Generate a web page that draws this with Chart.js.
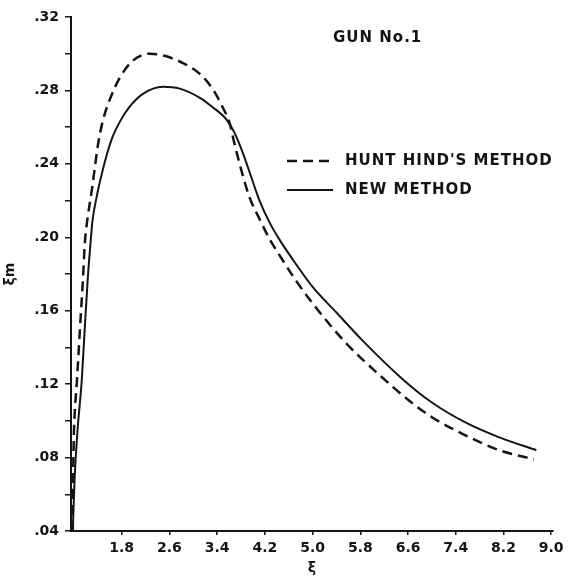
<!DOCTYPE html>
<html>
<head>
<meta charset="utf-8">
<script src="https://cdn.jsdelivr.net/npm/chart.js@4/dist/chart.umd.min.js"></script>
<style>
  body { margin: 0; background: #fff; }
  #wrap { width: 574px; height: 577px; position: relative; }
</style>
</head>
<body>
<div id="wrap"><canvas id="grafico"></canvas></div>
<script>
// --- dados ---
const xHunt = [0.98, 0.98, 1.00, 1.05, 1.10, 1.15, 1.18, 1.21, 1.30, 1.35, 1.40, 1.48, 1.60, 1.77, 1.98, 2.27, 2.50, 2.82, 3.11, 3.32, 3.49, 3.61, 3.69, 3.81, 3.94, 4.11, 4.28, 4.45, 4.73, 5.00, 5.57, 6.12, 6.62, 7.00, 7.57, 8.13, 8.71];
const yHunt = [0.040, 0.068, 0.095, 0.122, 0.150, 0.177, 0.196, 0.206, 0.226, 0.238, 0.250, 0.263, 0.275, 0.287, 0.296, 0.300, 0.299, 0.295, 0.289, 0.281, 0.271, 0.262, 0.251, 0.236, 0.222, 0.210, 0.199, 0.190, 0.176, 0.164, 0.142, 0.125, 0.111, 0.102, 0.092, 0.084, 0.079];

const xNovo = [0.98, 1.01, 1.06, 1.13, 1.18, 1.23, 1.28, 1.31, 1.38, 1.47, 1.55, 1.65, 1.77, 1.93, 2.15, 2.49, 2.77, 3.11, 3.32, 3.56, 3.69, 3.83, 3.98, 4.11, 4.28, 4.44, 4.73, 5.00, 5.40, 5.83, 6.50, 7.00, 7.57, 8.13, 8.75];
const yNovo = [0.040, 0.068, 0.095, 0.122, 0.150, 0.177, 0.198, 0.209, 0.222, 0.235, 0.245, 0.255, 0.263, 0.271, 0.278, 0.282, 0.281, 0.276, 0.271, 0.264, 0.257, 0.246, 0.232, 0.220, 0.208, 0.199, 0.185, 0.173, 0.159, 0.144, 0.123, 0.110, 0.099, 0.091, 0.084];

const xTicks = [1.8, 2.6, 3.4, 4.2, 5.0, 5.8, 6.6, 7.4, 8.2, 9.0];
const xTickLabels = ['1.8', '2.6', '3.4', '4.2', '5.0', '5.8', '6.6', '7.4', '8.2', '9.0'];
const yTicks = [0.04, 0.08, 0.12, 0.16, 0.20, 0.24, 0.28, 0.32];
const yTickLabels = ['.04', '.08', '.12', '.16', '.20', '.24', '.28', '.32'];

const titulo = 'GUN No.1';
const nomeHunt = "HUNT HIND'S METHOD";
const nomeNovo = 'NEW METHOD';

const tinta = '#141414';
const fonte = 'DejaVu Sans, Arial, sans-serif';

const pontos = (xs, ys) => xs.map((x, i) => ({ x: x, y: ys[i] }));

// titulo e legenda desenhados por cima
const legendaPlugin = {
    id: 'legendaPlugin',
    afterDraw(chart) {
        const ctx = chart.ctx;
        ctx.save();
        ctx.fillStyle = tinta;
        ctx.font = 'bold 15px ' + fonte;
        ctx.letterSpacing = '1px';
        ctx.textBaseline = 'middle';
        ctx.textAlign = 'left';
        ctx.fillText(titulo, 333, 38);

        const linhas = [
            { ds: chart.data.datasets[0], y: 161 },
            { ds: chart.data.datasets[1], y: 190 }
        ];
        linhas.forEach(l => {
            ctx.save();
            ctx.strokeStyle = tinta;
            ctx.lineWidth = l.ds.borderWidth;
            ctx.setLineDash(l.ds.borderDash || []);
            ctx.beginPath();
            ctx.moveTo(287, l.y);
            ctx.lineTo(333, l.y);
            ctx.stroke();
            ctx.restore();
            ctx.fillText(l.ds.label, 345, l.y);
        });
        ctx.restore();
    }
};

new Chart(document.getElementById('grafico').getContext('2d'), {
    type: 'line',
    data: {
        datasets: [
            {
                label: nomeHunt,
                data: pontos(xHunt, yHunt),
                borderColor: tinta,
                borderWidth: 2.5,
                borderDash: [10, 6],
                pointRadius: 0,
                cubicInterpolationMode: 'monotone',
                fill: false
            },
            {
                label: nomeNovo,
                data: pontos(xNovo, yNovo),
                borderColor: tinta,
                borderWidth: 2,
                pointRadius: 0,
                cubicInterpolationMode: 'monotone',
                fill: false
            }
        ]
    },
    options: {
        responsive: true,
        maintainAspectRatio: false,
        animation: false,
        layout: { padding: { left: 0, top: 17, right: 21, bottom: 0 } },
        plugins: {
            legend: { display: false },
            tooltip: { enabled: false }
        },
        scales: {
            x: {
                type: 'linear',
                min: 0.95,
                max: 9.03,
                afterBuildTicks: s => { s.ticks = xTicks.map(v => ({ value: v })); },
                afterFit: s => { s.height = 46; },
                border: { display: true, color: tinta, width: 2 },
                grid: { drawOnChartArea: false, drawTicks: true, tickLength: 4, color: tinta, lineWidth: 1.5 },
                ticks: {
                    color: tinta,
                    padding: 5,
                    maxRotation: 0,
                    font: { family: fonte, size: 14, weight: 'bold' },
                    callback: (v, i) => xTickLabels[i]
                },
                title: {
                    display: true,
                    text: 'ξ',
                    color: tinta,
                    padding: { top: 0, bottom: 0 },
                    font: { family: fonte, size: 14, weight: 'bold' }
                }
            },
            y: {
                min: 0.04,
                max: 0.32,
                afterBuildTicks: s => {
                    const t = [];
                    yTicks.forEach((v, i) => {
                        t.push({ value: v });
                        if (i < yTicks.length - 1) t.push({ value: (v + yTicks[i + 1]) / 2 });
                    });
                    s.ticks = t;
                },
                afterFit: s => { s.width = 71; },
                border: { display: true, color: tinta, width: 2 },
                grid: { drawOnChartArea: false, drawTicks: true, tickLength: 6, color: tinta, lineWidth: 1.5 },
                ticks: {
                    color: tinta,
                    padding: 6,
                    font: { family: fonte, size: 14, weight: 'bold' },
                    callback: v => {
                        const k = yTicks.findIndex(t => Math.abs(t - v) < 1e-6);
                        return k >= 0 ? yTickLabels[k] : '';
                    }
                },
                title: {
                    display: true,
                    text: 'ξm',
                    color: tinta,
                    padding: { top: 2, bottom: 0 },
                    font: { family: fonte, size: 14, weight: 'bold' }
                }
            }
        }
    },
    plugins: [legendaPlugin]
});
</script>
</body>
</html>
